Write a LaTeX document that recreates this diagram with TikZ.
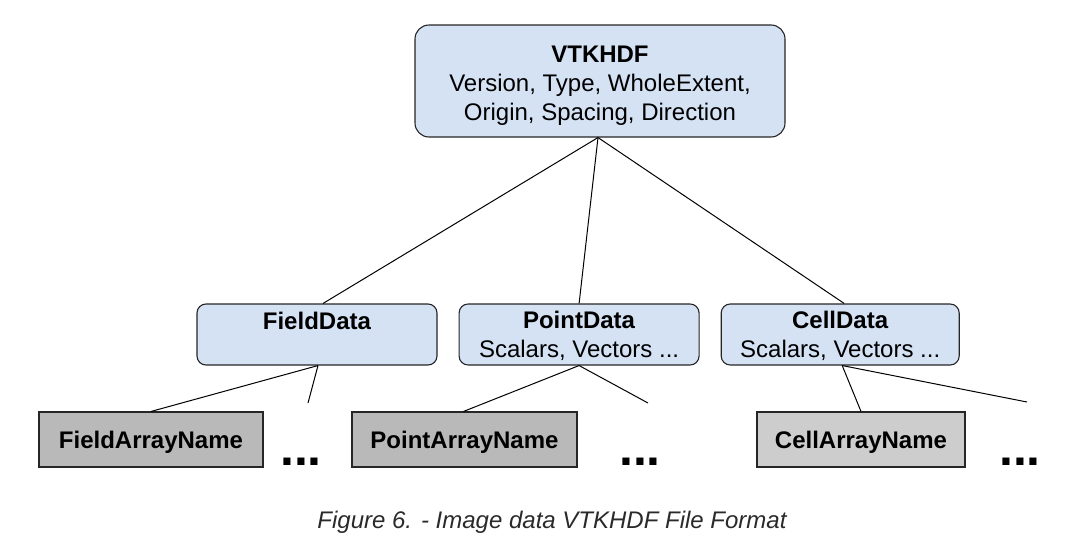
\documentclass[tikz,border=0pt]{standalone}
\usepackage{fontspec}
\setmainfont{Liberation Sans}
\usetikzlibrary{positioning}

\definecolor{groupblue}{HTML}{D5E2F3}
\definecolor{arraygray}{HTML}{B9B9B9}
\definecolor{arraylight}{HTML}{CDCDCD}
\definecolor{captiongray}{HTML}{2A2A2A}

\begin{document}
\begin{tikzpicture}[x=1pt,y=-1pt]
  \useasboundingbox (0,0) rectangle (1080,552);
  \begin{scope}[
    every node/.style={
      draw=black!85,
      line width=1.1pt,
      align=center,
      font=\fontsize{24}{29}\selectfont,
      inner sep=0pt,
    },
    groupbox/.style={
      rounded corners=9pt,
      fill=groupblue,
      minimum width=240pt,
      minimum height=61pt,
    },
    arraybox/.style={
      rectangle,
      fill=arraygray,
      minimum width=224pt,
      minimum height=55pt,
    },
    ]
    % VTKHDF
    \node [rounded corners=14pt,fill=groupblue,minimum width=370pt,minimum height=112pt] (VTKHDF) at (600,81)
    {\rule{0pt}{25pt}\textbf{VTKHDF}\\Version, Type, WholeExtent,\\Origin, Spacing, Direction};

    % FieldData
    \node [groupbox] (FieldData) at (317,334.5)
    {\rule{0pt}{20pt}\textbf{FieldData}\\\phantom{Scalars}};

    % PointData
    \node [groupbox,right=21pt of FieldData] (PointData)
    {\rule{0pt}{20pt}\textbf{PointData}\\Scalars, Vectors ...};

    % CellData
    \node [groupbox,minimum width=238pt,right=21pt of PointData] (CellData)
    {\rule{0pt}{20pt}\textbf{CellData}\\Scalars, Vectors ...};

    % FieldArrayName
    \node [arraybox] (FieldArray) at (151,439.5) {\rule{0pt}{22pt}\textbf{FieldArrayName}};

    % PointArrayName
    \node [arraybox,minimum width=225pt] (PointArray) at (464.5,439.5) {\rule{0pt}{22pt}\textbf{PointArrayName}};

    % CellArrayName
    \node [arraybox,fill=arraylight,minimum width=208pt] (CellArray) at (861,439.5) {\rule{0pt}{22pt}\textbf{CellArrayName}};
  \end{scope}
  \begin{scope}[
    every node/.style={
      anchor=base,
      inner sep=0pt,
      font=\fontsize{50}{50}\bfseries\selectfont,
    },
    ]
    \node (dotsField) at (301,465) {...};
    \node (dotsPoint) at (640,465) {...};
    \node (dotsCell) at (1020,465) {...};
  \end{scope}
  \begin{scope}[
    myline/.style={
      line width=1pt,
      black,
    },
    ]
    \coordinate (oField) at (308,403);
    \coordinate (oPoint) at (648,403);
    \coordinate (oCell) at (1027,402);

    % Path VTKHDF
    \draw [myline] ([xshift=-2pt]VTKHDF.south) -- ([xshift=6pt]FieldData.north);
    \draw [myline] ([xshift=-2pt]VTKHDF.south) -- (PointData.north);
    \draw [myline] ([xshift=-2pt]VTKHDF.south) -- ([xshift=4pt]CellData.north);

    % Path FieldData
    \draw [myline] ([xshift=1pt]FieldData.south) -- (FieldArray.north);
    \draw [myline] ([xshift=1pt]FieldData.south) -- (oField);

    % Path PointData
    \draw [myline] (PointData.south) -- ([xshift=-1pt]PointArray.north);
    \draw [myline] (PointData.south) -- (oPoint);

    % Path CellData
    \draw [myline] ([xshift=2pt]CellData.south) -- (CellArray.north);
    \draw [myline] ([xshift=2pt]CellData.south) -- (oCell);
  \end{scope}

  % caption
  \node [font=\fontsize{24}{28}\itshape\selectfont,text=captiongray] (caption) at (552,522)
  {Figure 6. - Image data VTKHDF File Format};
\end{tikzpicture}
\end{document}
